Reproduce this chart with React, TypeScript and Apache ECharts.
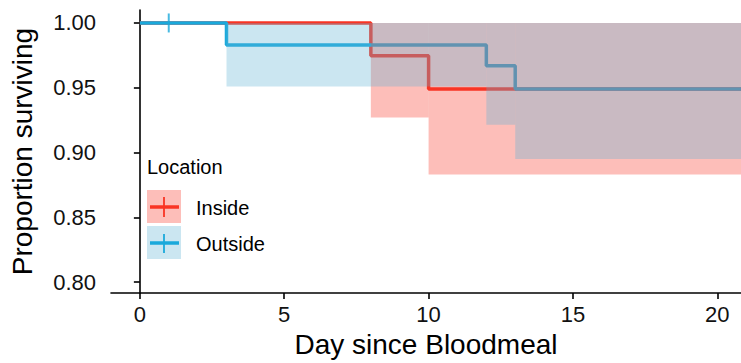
import React, { useEffect, useRef } from "react";
import * as echarts from "echarts";

// Kaplan-Meier step data
const insideTimes = [0, 8, 10, 21];
const insideSurv = [1.0, 0.9746, 0.949, 0.949];
const outsideTimes = [0, 3, 12, 13, 21];
const outsideSurv = [1.0, 0.983, 0.967, 0.949, 0.949];

// confidence bands: [from, to, lower, upper]
const insideBand = [
  [8, 10, 0.927, 1.0],
  [10, 21, 0.883, 1.0],
];
const outsideBand = [
  [3, 12, 0.951, 1.0],
  [12, 13, 0.9215, 1.0],
  [13, 21, 0.895, 1.0],
];

// censor marks
const outsideCensor = [[1, 1.0]];

const xTicks = [0, 5, 10, 15, 20];
const yTicks = [0.8, 0.85, 0.9, 0.95, 1.0];

const RED = "#F93424";
const BLUE = "#1AA9DB";
const RED_FILL = "rgba(250,52,36,0.32)";
const BLUE_FILL = "rgba(97,179,212,0.33)";
const FONT = "'Liberation Sans', Arial, Helvetica, sans-serif";

export default function App() {
  const ref = useRef<HTMLDivElement>(null);
  useEffect(() => {
    if (!ref.current) return;
    const chart = echarts.init(ref.current, undefined, { renderer: "svg" });
    const bandSeries = (data: number[][], fill: string, z: number) => ({
      type: "custom",
      clip: true,
      z,
      data,
      encode: { x: [0, 1], y: [2, 3] },
      renderItem: (params: any, api: any) => {
        const p0 = api.coord([api.value(0), api.value(3)]);
        const p1 = api.coord([api.value(1), api.value(2)]);
        return {
          type: "rect",
          shape: { x: p0[0], y: p0[1], width: p1[0] - p0[0], height: p1[1] - p0[1] },
          style: { fill },
        };
      },
    });
    chart.setOption({
      animation: false,
      grid: { left: 111, right: 0, top: 10, bottom: 69, containLabel: false },
      xAxis: {
        type: "value",
        min: -1,
        max: 20.82,
        name: "Day since Bloodmeal",
        nameLocation: "middle",
        nameGap: 35,
        nameTextStyle: { fontFamily: FONT, fontSize: 28, color: "#000" },
        splitLine: { show: false },
        axisLine: { show: true, lineStyle: { color: "#000", width: 1.6 } },
        axisTick: { show: true, length: 6, lineStyle: { color: "#000", width: 1.6 }, customValues: xTicks },
        axisLabel: {
          customValues: xTicks,
          margin: 10,
          fontFamily: FONT,
          fontSize: 22,
          color: "#111",
        },
      },
      yAxis: {
        type: "value",
        min: 0.7915,
        max: 1.01,
        name: "Proportion surviving",
        nameLocation: "middle",
        nameGap: 75,
        nameRotate: 90,
        nameTextStyle: { fontFamily: FONT, fontSize: 28, color: "#000" },
        splitLine: { show: false },
        axisLine: { show: true, lineStyle: { color: "#000", width: 1.6 } },
        axisTick: { show: true, length: 6, lineStyle: { color: "#000", width: 1.6 }, customValues: yTicks },
        axisLabel: {
          customValues: yTicks,
          margin: 15,
          fontFamily: FONT,
          fontSize: 22,
          color: "#111",
          formatter: (v: number) => v.toFixed(2),
        },
      },
      series: [
        {
          type: "line",
          step: "end",
          symbol: "none",
          z: 2,
          data: insideTimes.map((t, i) => [t, insideSurv[i]]),
          lineStyle: { color: RED, width: 3.5 },
        },
        {
          type: "line",
          step: "end",
          symbol: "none",
          z: 2,
          data: outsideTimes.map((t, i) => [t, outsideSurv[i]]),
          lineStyle: { color: BLUE, width: 3.5 },
        },
        {
          type: "scatter",
          symbol: "rect",
          symbolSize: [2, 19],
          z: 2,
          data: outsideCensor,
          itemStyle: { color: BLUE },
        },
        bandSeries(insideBand, RED_FILL, 3),
        bandSeries(outsideBand, BLUE_FILL, 4),
      ],
      graphic: [
        {
          type: "text",
          left: 147,
          top: 157,
          style: { text: "Location", fontFamily: FONT, fontSize: 20, fill: "#000" },
        },
        { type: "rect", shape: { x: 147, y: 190, width: 34, height: 33 }, style: { fill: RED_FILL } },
        { type: "line", shape: { x1: 150, y1: 207, x2: 179, y2: 207 }, style: { stroke: RED, lineWidth: 3.5 } },
        { type: "line", shape: { x1: 164, y1: 197, x2: 164, y2: 217 }, style: { stroke: RED, lineWidth: 1.8 } },
        { type: "rect", shape: { x: 147, y: 226, width: 34, height: 33 }, style: { fill: BLUE_FILL } },
        { type: "line", shape: { x1: 150, y1: 243, x2: 179, y2: 243 }, style: { stroke: BLUE, lineWidth: 3.5 } },
        { type: "line", shape: { x1: 164, y1: 234, x2: 164, y2: 253 }, style: { stroke: BLUE, lineWidth: 1.8 } },
        {
          type: "text",
          x: 196,
          y: 208,
          style: { text: "Inside", fontFamily: FONT, fontSize: 20, fill: "#000", verticalAlign: "middle" },
        },
        {
          type: "text",
          x: 196,
          y: 244,
          style: { text: "Outside", fontFamily: FONT, fontSize: 20, fill: "#000", verticalAlign: "middle" },
        },
      ],
    });
    return () => chart.dispose();
  }, []);
  return <div ref={ref} style={{ width: 741, height: 363, position: "absolute", left: 0, top: 0 }} />;
}
